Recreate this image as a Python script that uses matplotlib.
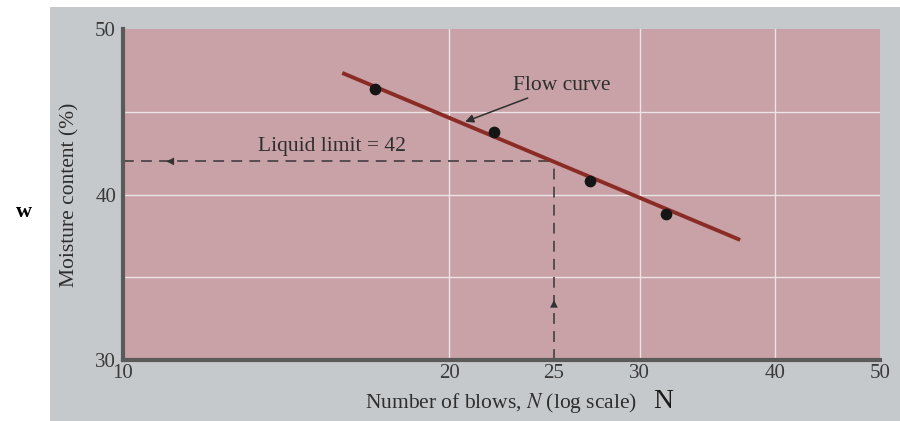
import numpy as np
import matplotlib.pyplot as plt
from matplotlib.patches import Rectangle

# test points
blows = [17.1, 22.0, 27.0, 31.7]
moisture = [46.4, 43.8, 40.8, 38.8]

# best fit flow curve (end points)
flow_n = [16.0, 37.0]
flow_w = [47.3, 37.3]

liquid_limit = 42
n_ref = 25

xticks = [10, 20, 25, 30, 40, 50]
yticks = [30, 40, 50]

plt.rcParams['font.family'] = ['Liberation Serif', 'DejaVu Serif']
plt.rcParams['mathtext.fontset'] = 'stix'

fig = plt.figure(figsize=(9, 4.21), dpi=100)
fig.patch.set_facecolor('white')
fig.patches.append(Rectangle((50 / 900, 0), 850 / 900, 1 - 7 / 421,
                             transform=fig.transFigure, facecolor='#c6c9cc',
                             edgecolor='none', zorder=-10))

ax = fig.add_axes([123 / 900, 1 - 360 / 421, 757 / 900, 331 / 421])
ax.set_facecolor('#c9a2a7')
ax.set_xscale('log')
ax.set_xlim(10, 50)
ax.set_ylim(30, 50)

ax.set_xticks(xticks)
ax.set_xticklabels([str(t) for t in xticks])
ax.minorticks_off()
ax.set_yticks(yticks)
ax.tick_params(length=0, labelsize=15, colors='#3a3a3a')
ax.tick_params(axis='x', pad=3)
ax.tick_params(axis='y', pad=5)

for g in [20, 30, 40]:
    ax.axvline(g, color='#ece4e6', lw=1.0, zorder=1)
for g in [35, 40, 45]:
    ax.axhline(g, color='#ece4e6', lw=1.0, zorder=1)

for s in ['top', 'right']:
    ax.spines[s].set_visible(False)
for s in ['left', 'bottom']:
    ax.spines[s].set_color('#5a5a5a')
    ax.spines[s].set_linewidth(3)

# dashed construction lines
ax.plot([10, n_ref], [liquid_limit, liquid_limit], color='#4d4548',
        lw=1.3, ls=(0, (6, 4)), zorder=2)
ax.plot([n_ref, n_ref], [30, liquid_limit], color='#4d4548',
        lw=1.3, ls=(0, (6, 4)), zorder=2)
ax.annotate('', xy=(10.9, liquid_limit), xytext=(11.5, liquid_limit),
            arrowprops=dict(arrowstyle='-|>', color='#333333', lw=0,
                            mutation_scale=14))
ax.annotate('', xy=(n_ref, 33.8), xytext=(n_ref, 32.9),
            arrowprops=dict(arrowstyle='-|>', color='#333333', lw=0,
                            mutation_scale=14))

ax.plot(flow_n, flow_w, color='#8a2c25', lw=2.8, zorder=3)
ax.scatter(blows, moisture, s=55, color='#151515', zorder=4)

ax.text(15.6, 42.9, 'Liquid limit = 42', fontsize=15.5, color='#2e2e2e',
        ha='center', va='center')
ax.annotate('Flow curve', xy=(20.7, 44.4), xytext=(22.9, 46.6),
            fontsize=15.5, color='#2e2e2e', va='center',
            arrowprops=dict(arrowstyle='-|>', color='#2e2e2e', lw=1.1,
                            mutation_scale=12, shrinkA=1, shrinkB=0))

ax.set_ylabel('Moisture content (%)', fontsize=15.5, color='#2e2e2e')
ax.yaxis.set_label_coords(-0.058, 0.5)
ax.set_xlabel('Number of blows, $\\it{N}$ (log scale)', fontsize=15.5,
              color='#2e2e2e')
ax.xaxis.set_label_coords(0.5, -0.095)

fig.text(663 / 900, 1 - 401 / 421, 'N', fontsize=20, color='#1a1a1a',
         ha='center', va='center')
fig.text(24 / 900, 1 - 212 / 421, 'w', fontsize=16, color='black',
         fontweight='bold', ha='center', va='center')

fig.savefig('out.png', dpi=100)
